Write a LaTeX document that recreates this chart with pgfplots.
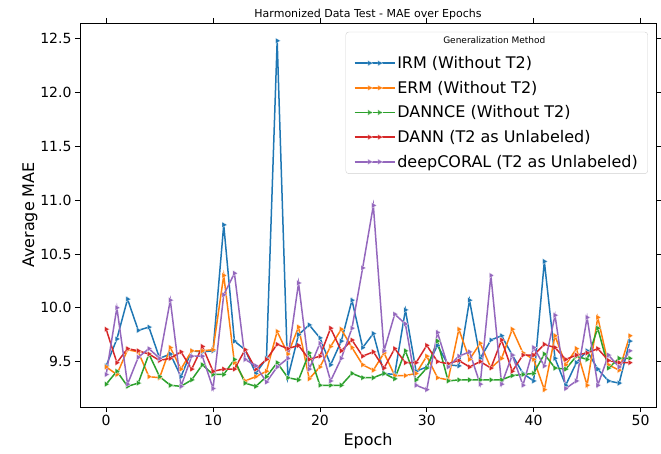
\documentclass[border=0pt]{standalone}
\usepackage{fontspec}
\setmainfont{DejaVu Sans}
\usepackage{pgfplots}
\usepackage{pgfplotstable}
\pgfplotsset{compat=1.18}

\definecolor{tabblue}{HTML}{1F77B4}
\definecolor{taborange}{HTML}{FF7F0E}
\definecolor{tabgreen}{HTML}{2CA02C}
\definecolor{tabred}{HTML}{D62728}
\definecolor{tabpurple}{HTML}{9467BD}

% Average MAE per epoch for each generalization method
\pgfplotstableread{
epoch irm   erm   dannce dann  coral
0     9.46  9.45  9.29   9.80  9.38
1     9.71  9.38  9.41   9.49  10.00
2     10.08 9.61  9.27   9.62  9.29
3     9.79  9.59  9.30   9.60  9.54
4     9.82  9.36  9.57   9.57  9.62
5     9.53  9.35  9.36   9.51  9.53
6     9.57  9.63  9.28   9.53  10.07
7     9.36  9.43  9.27   9.59  9.27
8     9.60  9.60  9.33   9.43  9.55
9     9.59  9.60  9.47   9.64  9.55
10    9.60  9.61  9.38   9.41  9.25
11    10.77 10.30 9.38   9.43  10.12
12    9.69  9.49  9.52   9.43  10.32
13    9.61  9.32  9.30   9.61  9.52
14    9.39  9.36  9.27   9.43  9.46
15    9.53  9.41  9.36   9.52  9.31
16    12.48 9.78  9.49   9.66  9.45
17    9.35  9.57  9.35   9.62  9.53
18    9.75  9.82  9.33   9.65  10.23
19    9.84  9.34  9.58   9.52  9.43
20    9.72  9.45  9.28   9.55  9.67
21    9.47  9.64  9.28   9.81  9.32
22    9.69  9.80  9.28   9.60  9.53
23    10.07 9.63  9.39   9.70  9.81
24    9.63  9.47  9.35   9.55  10.37
25    9.76  9.42  9.35   9.59  10.95
26    9.39  9.58  9.39   9.44  9.60
27    9.38  9.37  9.34   9.62  9.94
28    9.98  9.37  9.60   9.49  9.85
29    9.41  9.39  9.33   9.49  9.28
30    9.45  9.55  9.44   9.65  9.24
31    9.65  9.35  9.69   9.50  9.77
32    9.47  9.33  9.32   9.48  9.45
33    9.46  9.80  9.33   9.51  9.55
34    10.07 9.52  9.33   9.45  9.59
35    9.53  9.67  9.33   9.50  9.29
36    9.70  9.44  9.33   9.44  10.30
37    9.74  9.53  9.33   9.70  9.29
38    9.56  9.80  9.37   9.41  9.56
39    9.39  9.58  9.38   9.56  9.28
40    9.32  9.52  9.39   9.56  9.63
41    10.43 9.24  9.57   9.66  9.46
42    9.53  9.74  9.44   9.63  9.93
43    9.28  9.47  9.43   9.52  9.25
44    9.49  9.62  9.55   9.56  9.32
45    9.60  9.28  9.52   9.58  9.91
46    9.43  9.91  9.81   9.62  9.28
47    9.32  9.47  9.44   9.51  9.56
48    9.30  9.42  9.53   9.49  9.45
49    9.69  9.74  9.53   9.49  9.60
}\maetable

\pgfplotsset{
  maeline/.style={
    color=#1, line width=1.5pt,
    mark=triangle*, mark size=3.3pt,
    mark options={rotate=-90, fill=#1, draw=white, line width=0.2pt, solid},
    legend image code/.code={
      \draw[mark indices={2,3}] plot coordinates {(0pt,0pt) (15pt,0pt) (25pt,0pt) (40pt,0pt)};
    },
  },
}

\begin{document}
\begin{tikzpicture}
\begin{axis}[
  scale only axis,
  width=576pt, height=384pt,
  xmin=-2.45, xmax=51.45,
  ymin=9.078, ymax=12.645,
  xtick={0,10,20,30,40,50},
  ytick={9.5,10,10.5,11,11.5,12,12.5},
  tick align=outside,
  major tick length=5pt,
  tick style={black, line width=0.8pt},
  axis line style={black, line width=0.8pt},
  /pgf/number format/assume math mode=true,
  ticklabel style={font=\fontsize{14}{16}\selectfont},
  yticklabel style={/pgf/number format/.cd, fixed, fixed zerofill, precision=1},
  xticklabel style={/pgf/number format/.cd, fixed, precision=0},
  title={Harmonized Data Test - MAE over Epochs},
  title style={font=\fontsize{11}{13}\selectfont, at={(axis description cs:0.5,1)}, anchor=south, inner sep=0pt, yshift=-3pt},
  xlabel={Epoch},
  ylabel={Average MAE},
  label style={font=\fontsize{16}{19}\selectfont},
  xlabel style={at={(axis description cs:0.5,0)}, anchor=north, inner sep=0pt, yshift=-26pt},
  ylabel style={at={(axis description cs:-0.0868,0.5)}, anchor=center, inner sep=0pt},
  legend cell align=left,
  legend style={
    at={(axis description cs:0.986,0.977)}, anchor=north east,
    draw=black!18, rounded corners=3pt, fill=white, fill opacity=0.8, text opacity=1,
    font=\fontsize{16}{19}\selectfont,
    row sep=7pt, inner xsep=8pt, inner ysep=3pt,
    /tikz/every even column/.append style={column sep=12pt},
  },
]
\addlegendimage{empty legend}
\addlegendentry{\hspace*{46pt}\fontsize{9}{10}\selectfont Generalization Method}

\addplot[maeline=tabblue]   table[x=epoch, y=irm]    {\maetable};
\addlegendentry{IRM (Without T2)}
\addplot[maeline=taborange] table[x=epoch, y=erm]    {\maetable};
\addlegendentry{ERM (Without T2)}
\addplot[maeline=tabgreen]  table[x=epoch, y=dannce] {\maetable};
\addlegendentry{DANNCE (Without T2)}
\addplot[maeline=tabred]    table[x=epoch, y=dann]   {\maetable};
\addlegendentry{DANN (T2 as Unlabeled)}
\addplot[maeline=tabpurple] table[x=epoch, y=coral]  {\maetable};
\addlegendentry{deepCORAL (T2 as Unlabeled)}
\end{axis}
\pgfresetboundingbox
\path[use as bounding box] (current axis.south west) ++(-80pt,-46pt)
  rectangle ([shift={(5pt,23pt)}]current axis.north east);
\end{tikzpicture}
\end{document}
